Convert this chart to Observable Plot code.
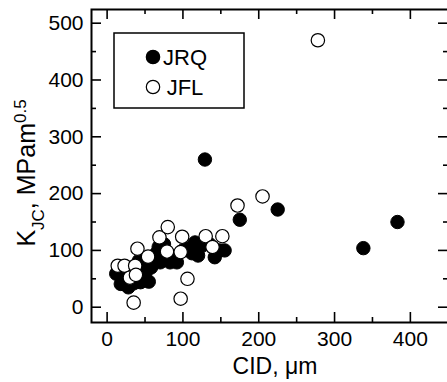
<!DOCTYPE html>
<html>
<head>
<meta charset="utf-8">
<script src="https://cdn.jsdelivr.net/npm/d3@7"></script>
<script src="https://cdn.jsdelivr.net/npm/@observablehq/plot@0.6"></script>
<style>
  body { margin: 0; background: #fff; }
  #chart { width: 447px; height: 382px; }
</style>
</head>
<body>
<div id="chart"></div>
<script>
// ---- data ----
const seriesNames = ["JRQ", "JFL"];
const jrqCID = [12, 18, 22, 28, 35, 42, 44, 48, 52, 55, 58, 65, 68, 70, 72, 75, 83, 88, 92, 100, 106, 112, 116, 120, 125, 129, 135, 142, 148, 155, 175, 225, 338, 383];
const jrqKJC = [59, 41, 53, 35, 42, 82, 44, 76, 64, 45, 70, 95, 106, 79, 82, 111, 79, 88, 79, 100, 103, 95, 114, 91, 108, 260, 111, 88, 100, 100, 154, 172, 104, 150];
const jflCID = [14, 23, 30, 35, 37, 38, 40, 54, 69, 80, 79, 97, 97, 99, 106, 130, 139, 152, 172, 205, 278];
const jflKJC = [73, 73, 52, 8, 73, 57, 103, 89, 123, 141, 98, 97, 15, 124, 50, 125, 106, 125, 179, 195, 470];
const xTickLabels = [0, 100, 200, 300, 400];
const xMinorTicks = [50, 150, 250, 350];
const yTickLabels = [0, 100, 200, 300, 400, 500];
const yMinorTicks = [50, 150, 250, 350, 450];

const jrq = jrqCID.map((c, i) => ({cid: c, kjc: jrqKJC[i], series: seriesNames[0]}));
const jfl = jflCID.map((c, i) => ({cid: c, kjc: jflKJC[i], series: seriesNames[1]}));

// ---- layout ----
const W = 447, H = 382, mL = 91, mR = -1, mT = 9, mB = 60;
const innerW = W - mL - mR, innerH = H - mT - mB;
const major = 10, minor = 5;
const font = "'Liberation Sans', Arial, Helvetica, sans-serif";
const tickStyle = {stroke: "#000", strokeWidth: 1.6};

const plot = Plot.plot({
  width: W, height: H,
  marginLeft: mL, marginRight: mR, marginTop: mT, marginBottom: mB,
  style: {fontFamily: font, fontSize: "21px", color: "#000", background: "#fff"},
  x: {domain: [-20.6, 450.3], label: null},
  y: {domain: [-26.9, 524.1], label: null},
  marks: [
    Plot.tickX(xTickLabels, {x: d => d, insetTop: innerH - major, ...tickStyle}),
    Plot.tickX(xTickLabels, {x: d => d, insetBottom: innerH - major, ...tickStyle}),
    Plot.tickX(xMinorTicks, {x: d => d, insetTop: innerH - minor, ...tickStyle}),
    Plot.tickX(xMinorTicks, {x: d => d, insetBottom: innerH - minor, ...tickStyle}),
    Plot.tickY(yTickLabels, {y: d => d, insetRight: innerW - major, ...tickStyle}),
    Plot.tickY(yTickLabels, {y: d => d, insetLeft: innerW - major, ...tickStyle}),
    Plot.tickY(yMinorTicks, {y: d => d, insetRight: innerW - minor, ...tickStyle}),
    Plot.tickY(yMinorTicks, {y: d => d, insetLeft: innerW - minor, ...tickStyle}),
    Plot.axisX(xTickLabels, {tickSize: 0, tickPadding: 9, fontSize: 21, label: null}),
    Plot.axisY(yTickLabels, {tickSize: 0, tickPadding: 8, fontSize: 21, label: null}),
    Plot.dot(jrq, {x: "cid", y: "kjc", r: 6.7, fill: "#000", stroke: "#000", strokeWidth: 1}),
    Plot.dot(jfl, {x: "cid", y: "kjc", r: 6.7, fill: "#fff", stroke: "#000", strokeWidth: 1.2}),
    Plot.frame({stroke: "#000", strokeWidth: 2})
  ]
});

document.getElementById("chart").appendChild(plot);

const svg = d3.select(plot);

// x-axis label
svg.append("text")
  .attr("x", 275).attr("y", 374)
  .attr("text-anchor", "middle")
  .attr("font-family", font).attr("font-size", 23).attr("fill", "#000")
  .text("CID, μm");

// y-axis label with subscript / superscript
const yl = svg.append("text")
  .attr("transform", "translate(35,173) rotate(-90)")
  .attr("text-anchor", "middle")
  .attr("font-family", font).attr("font-size", 25).attr("fill", "#000");
yl.append("tspan").text("K");
yl.append("tspan").attr("font-size", 17).attr("dy", 9).text("JC");
yl.append("tspan").attr("dy", -9).text(", MPam");
yl.append("tspan").attr("font-size", 17).attr("dy", -9).text("0.5");

// legend (inside frame, top-left)
const lg = svg.append("g").attr("font-family", font).attr("font-size", 22);
lg.append("rect").attr("x", 114).attr("y", 33).attr("width", 130).attr("height", 75)
  .attr("fill", "#fff").attr("stroke", "#000").attr("stroke-width", 1.5);
const legendItems = [
  {name: seriesNames[0], fill: "#000", cy: 57},
  {name: seriesNames[1], fill: "#fff", cy: 87}
];
legendItems.forEach(it => {
  lg.append("circle").attr("cx", 153).attr("cy", it.cy).attr("r", 6.7)
    .attr("fill", it.fill).attr("stroke", "#000").attr("stroke-width", 1.2);
  lg.append("text").attr("x", 185).attr("y", it.cy + 7.5).attr("fill", "#000").text(it.name);
});
</script>
</body>
</html>
